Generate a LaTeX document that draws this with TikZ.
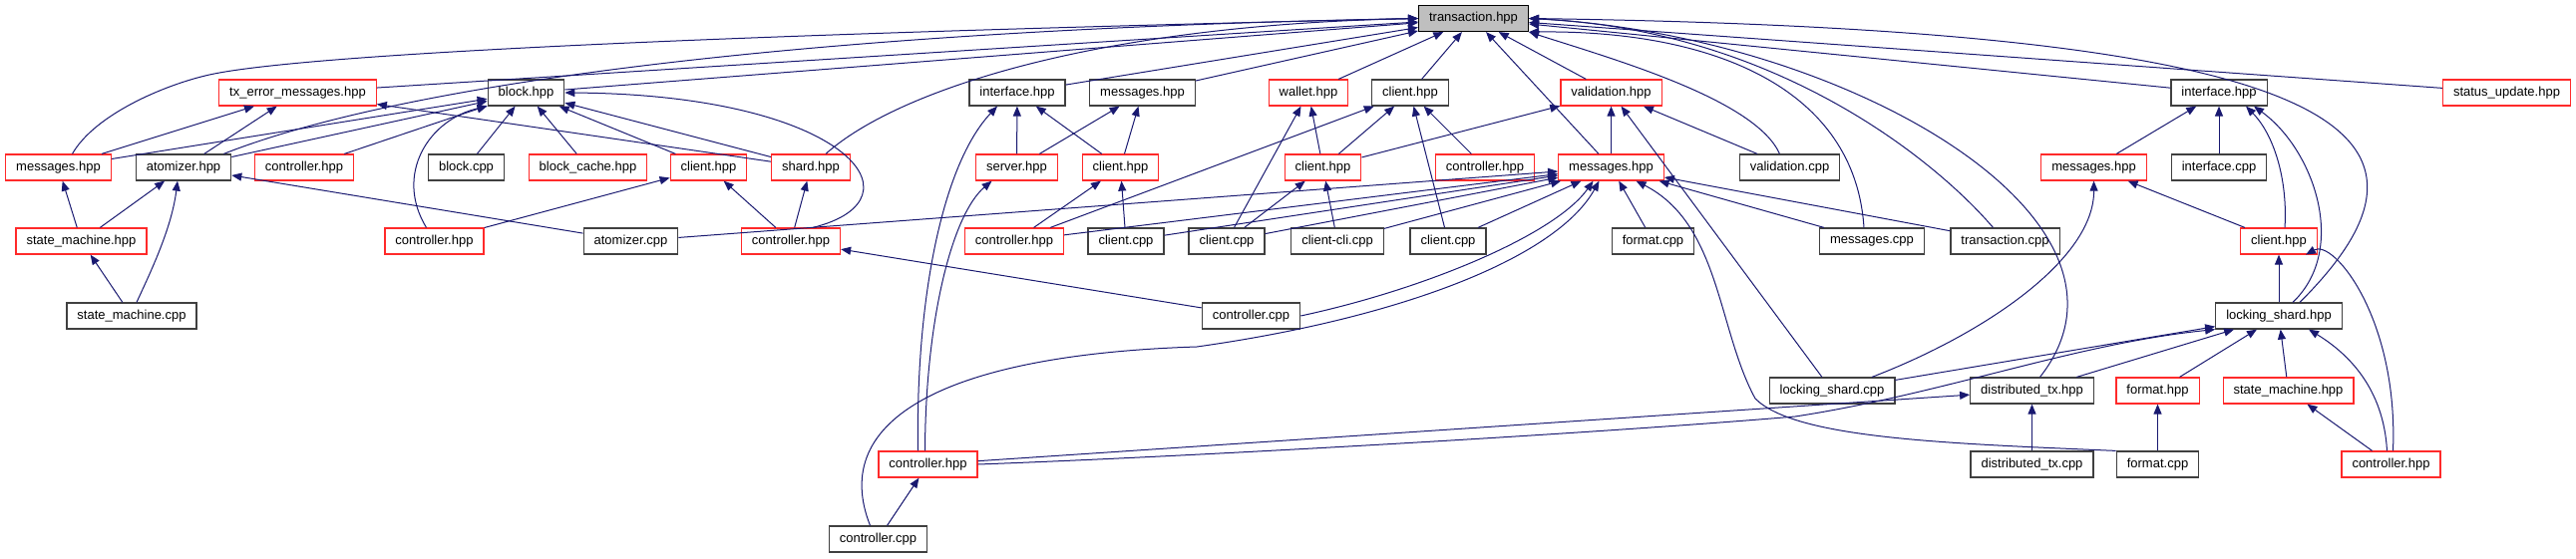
\documentclass[tikz,border=0pt]{standalone}
\usepackage{fontspec}
\setmainfont{Liberation Sans}
\usetikzlibrary{arrows.meta}
\definecolor{kantenblau}{HTML}{191970}
\definecolor{rahmengrau}{HTML}{404040}
\definecolor{rahmenrot}{HTML}{FF2A2A}
\definecolor{wurzelgrau}{HTML}{BFBFBF}
\begin{document}
\begin{tikzpicture}[
    datei/.style={draw=rahmengrau, line width=1.2pt, fill=white, font=\fontsize{13}{15}\selectfont,
        inner xsep=10.5pt, inner ysep=0pt, minimum height=26pt},
    rotdatei/.style={datei, draw=rahmenrot},
    wurzel/.style={datei, draw=black, fill=wurzelgrau},
    kante/.style={draw=kantenblau, line width=1pt, {Triangle[length=10pt,width=8pt]}-}
]
    \begin{scope}[x=1pt, y=-1pt]
        \useasboundingbox (0,0) rectangle (2583,560);
        %Knoten
        \node[wurzel] (trans) at (1477.5,18.5) {transaction.hpp};
        %Zeile 1
        \node[rotdatei] (txerr) at (298.5,93) {tx\_error\_messages.hpp};
        \node[datei] (blockh) at (527.5,93) {block.hpp};
        \node[datei] (ifaceA) at (1020,93) {interface.hpp};
        \node[datei] (msgA) at (1145.5,93) {messages.hpp};
        \node[rotdatei] (wallet) at (1312,93) {wallet.hpp};
        \node[datei] (clientA) at (1414,93) {client.hpp};
        \node[rotdatei] (valh) at (1615.5,93) {validation.hpp};
        \node[datei] (ifaceB) at (2225,93) {interface.hpp};
        \node[rotdatei] (status) at (2513.5,93) {status\_update.hpp};
        %Zeile 2
        \node[rotdatei] (msgL) at (58.5,168) {messages.hpp};
        \node[datei] (atomh) at (184,168) {atomizer.hpp};
        \node[rotdatei] (ctrlA) at (305,168) {controller.hpp};
        \node[datei] (blockcpp) at (467.5,168) {block.cpp};
        \node[rotdatei] (bcache) at (589.5,168) {block\_cache.hpp};
        \node[rotdatei] (clientB) at (710.5,168) {client.hpp};
        \node[rotdatei] (shard) at (813,168) {shard.hpp};
        \node[rotdatei] (server) at (1019.5,168) {server.hpp};
        \node[rotdatei] (clientC) at (1123.5,168) {client.hpp};
        \node[rotdatei] (clientD) at (1326.5,168) {client.hpp};
        \node[rotdatei] (ctrlB) at (1489,168) {controller.hpp};
        \node[rotdatei] (msgM) at (1615.5,168) {messages.hpp};
        \node[datei] (valcpp) at (1794.5,168) {validation.cpp};
        \node[rotdatei] (msgR) at (2099.5,168) {messages.hpp};
        \node[datei] (ifacecpp) at (2225,168) {interface.cpp};
        %Zeile 3
        \node[rotdatei] (smhL) at (81.5,242) {state\_machine.hpp};
        \node[rotdatei] (ctrlC) at (435.5,242) {controller.hpp};
        \node[datei] (atomcpp) at (632.5,242) {atomizer.cpp};
        \node[rotdatei] (ctrlD) at (793,242) {controller.hpp};
        \node[rotdatei] (ctrlE) at (1017,242) {controller.hpp};
        \node[datei] (clcppA) at (1129,242) {client.cpp};
        \node[datei] (clcppB) at (1230,242) {client.cpp};
        \node[datei] (clicli) at (1341,242) {client-cli.cpp};
        \node[datei] (clcppC) at (1452,242) {client.cpp};
        \node[datei] (fmtcppA) at (1657.5,242) {format.cpp};
        \node[datei] (msgcpp) at (1877,242) {messages.cpp};
        \node[datei] (transcpp) at (2010.5,242) {transaction.cpp};
        \node[rotdatei] (clientE) at (2285,242) {client.hpp};
        %Zeile 4
        \node[datei] (smcpp) at (132,317) {state\_machine.cpp};
        \node[datei] (ctrlcppA) at (1254.5,317) {controller.cpp};
        \node[datei] (lockh) at (2285,317) {locking\_shard.hpp};
        %Zeile 5
        \node[datei] (lockcpp) at (1837,392) {locking\_shard.cpp};
        \node[datei] (dtxh) at (2037.5,392) {distributed\_tx.hpp};
        \node[rotdatei] (fmth) at (2163.5,392) {format.hpp};
        \node[rotdatei] (smhR) at (2294.5,392) {state\_machine.hpp};
        %Zeile 6
        \node[rotdatei] (ctrlF) at (930.5,466) {controller.hpp};
        \node[datei] (dtxcpp) at (2037.5,466) {distributed\_tx.cpp};
        \node[datei] (fmtcppB) at (2163.5,466) {format.cpp};
        \node[rotdatei] (ctrlG) at (2397.5,466) {controller.hpp};
        %Zeile 7
        \node[datei] (ctrlcppB) at (880.5,541) {controller.cpp};

        %Kanten zu transaction.hpp
        \draw[kante] (trans.west) .. controls (700,35) and (300,55) .. (210,75)
            .. controls (165,85) and (95,115) .. ([xshift=14pt]msgL.north);
        \draw[kante] (trans.west) .. controls (800,30) and (400,85) .. ([xshift=-8pt]atomh.north east);
        \draw[kante] (trans.west) .. controls (1100,25) and (900,90) .. ([xshift=15pt]shard.north);
        \foreach \q in {txerr, blockh, ifaceA, msgA, wallet, clientA, msgM, valh, ifaceB, status}
            \draw[kante] (trans) -- (\q);
        \draw[kante] (trans.south east) .. controls (1620,60) and (1760,100) .. ([xshift=-10pt]valcpp.north);
        \draw[kante] (trans.south east) .. controls (1720,30) and (1860,90) .. ([xshift=-8pt]msgcpp.north);
        \draw[kante] (trans.east) .. controls (1780,30) and (1940,160) .. ([xshift=-12pt]transcpp.north);
        \draw[kante] (trans.east) .. controls (1850,35) and (2170,220) .. ([xshift=8pt]dtxh.north);
        \draw[kante] (trans.east) .. controls (2350,30) and (2480,130) .. ([xshift=21pt]lockh.north);

        %tx_error_messages.hpp, block.hpp
        \foreach \q in {msgL, atomh, shard}
            \draw[kante] (txerr) -- (\q);
        \foreach \q in {msgL, atomh, ctrlA, blockcpp, bcache, clientB, shard}
            \draw[kante] (blockh) -- (\q);
        \draw[kante] (blockh.south west) .. controls (430,120) and (395,175) .. ([xshift=-8pt]ctrlC.north);
        \draw[kante] (blockh.east) .. controls (850,95) and (930,200) .. ([xshift=22pt]ctrlD.north);

        %atomizer.hpp
        \draw[kante] (atomh) -- (smhL);
        \draw[kante] (atomh) -- (atomcpp);
        \draw[kante] ([xshift=-6pt]atomh.south) .. controls (172,230) and (150,275) .. ([xshift=5pt]smcpp.north);
        \draw[kante] (msgL) -- (smhL);
        \draw[kante] (smhL) -- (smcpp);

        %client.hpp, shard.hpp
        \draw[kante] (clientB) -- (ctrlC);
        \draw[kante] (clientB) -- (ctrlD);
        \draw[kante] (shard) -- (ctrlD);
        \draw[kante] (ctrlD) -- (ctrlcppA);

        %interface.hpp, messages.hpp, server.hpp
        \draw[kante] (ifaceA) -- (server);
        \draw[kante] (ifaceA) -- (clientC);
        \draw[kante] ([xshift=-20pt]ifaceA.south) .. controls (945,165) and (918,300) .. ([xshift=-10pt]ctrlF.north);
        \draw[kante] (msgA) -- (server);
        \draw[kante] (msgA) -- (clientC);
        \draw[kante] ([xshift=-25pt]server.south) .. controls (955,215) and (928,320) .. ([xshift=-3pt]ctrlF.north);
        \draw[kante] (clientC) -- (ctrlE);
        \draw[kante] (clientC) -- (clcppA);

        %wallet.hpp, client.hpp
        \draw[kante] (wallet) -- (clientD);
        \draw[kante] (wallet) -- (clcppB);
        \foreach \q in {ctrlE, clientD, clcppC, ctrlB}
            \draw[kante] (clientA) -- (\q);

        %validation.hpp
        \foreach \q in {clientD, msgM, valcpp, lockcpp}
            \draw[kante] (valh) -- (\q);
        \draw[kante] (clientD) -- (clcppB);
        \draw[kante] (clientD) -- (clicli);

        %messages.hpp (Mitte)
        \foreach \q in {atomcpp, ctrlE, clcppA, clcppB, clicli, clcppC, fmtcppA, msgcpp, transcpp}
            \draw[kante] (msgM) -- (\q);
        \draw[kante] ([xshift=-18pt]msgM.south) .. controls (1560,235) and (1430,290) .. (ctrlcppA.east);
        \draw[kante] ([xshift=-12pt]msgM.south) .. controls (1560,260) and (1400,320) .. (1200,348)
            .. controls (950,356) and (830,420) .. ([xshift=-8pt]ctrlcppB.north);
        \draw[kante] ([xshift=25pt]msgM.south) .. controls (1725,225) and (1722,330) .. (1760,400)
            .. controls (1800,440) and (1950,445) .. (fmtcppB.north west);

        %messages.hpp, interface.hpp (rechts)
        \draw[kante] (msgR.south) .. controls (2100,260) and (1990,335) .. ([xshift=40pt]lockcpp.north);
        \draw[kante] (msgR) -- (clientE);
        \draw[kante] (ifaceB) -- (msgR);
        \draw[kante] (ifaceB) -- (ifacecpp);
        \draw[kante] ([xshift=27pt]ifaceB.south) .. controls (2280,135) and (2294,180) .. ([xshift=6pt]clientE.north);
        \draw[kante] ([xshift=35pt]ifaceB.south) .. controls (2320,150) and (2355,250) .. ([xshift=14pt]lockh.north);

        %client.hpp, locking_shard.hpp
        \draw[kante] (clientE) -- (lockh);
        \draw[kante] ([xshift=27pt]clientE.south) .. controls (2340,240) and (2405,320) .. ([xshift=2pt]ctrlG.north);
        \foreach \q in {lockcpp, dtxh, fmth, smhR}
            \draw[kante] (lockh) -- (\q);
        \draw[kante] (lockh.south west) .. controls (2080,345) and (1950,395) .. (1800,418)
            .. controls (1600,435) and (1200,458) .. (ctrlF.east);
        \draw[kante] ([xshift=30pt]lockh.south) .. controls (2355,355) and (2390,390) .. ([xshift=-4pt]ctrlG.north);
        \draw[kante] (dtxh) -- (ctrlF);
        \draw[kante] (dtxh) -- (dtxcpp);
        \draw[kante] (fmth) -- (fmtcppB);
        \draw[kante] (smhR) -- (ctrlG);
        \draw[kante] (ctrlF) -- (ctrlcppB);
    \end{scope}
\end{tikzpicture}
\end{document}
